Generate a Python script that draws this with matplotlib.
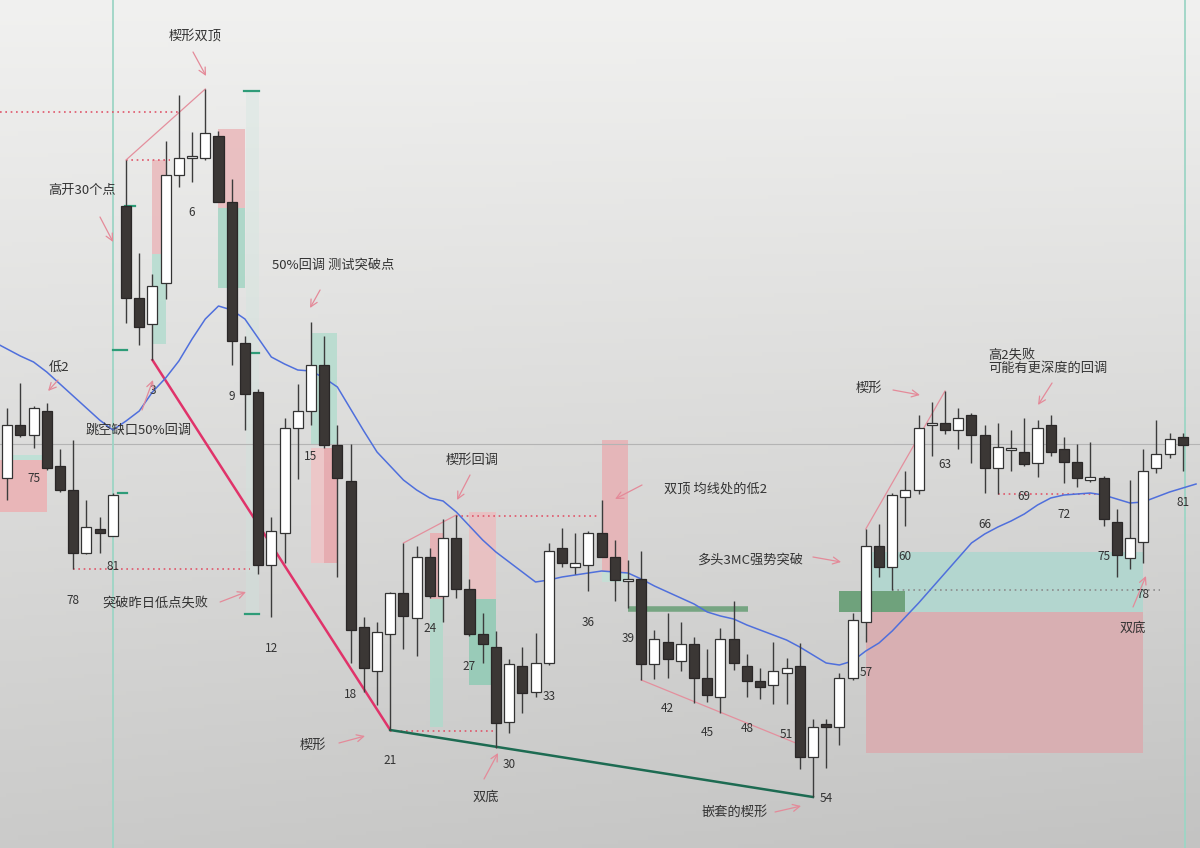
import numpy as np
import matplotlib
matplotlib.use("Agg")
import matplotlib.pyplot as plt
from matplotlib.patches import Rectangle

plt.rcParams['font.family'] = ['Noto Sans CJK SC', 'DejaVu Sans']

# ---------------- data (price in chart units, ~10 units per point) ----------------
prev_bar_numbers = [73, 74, 75, 76, 77, 78, 79, 80, 81]
prev_open  = [522, 575, 565, 589, 534, 510, 447, 471, 464]
prev_high  = [592, 617, 594, 597, 551, 560, 500, 483, 507]
prev_low   = [500, 563, 552, 530, 508, 431, 446, 447, 464]
prev_close = [575, 565, 592, 532, 510, 447, 473, 467, 505]

day_bar_numbers = list(range(1, 82))
day_open = [794, 702, 676, 717, 825, 842, 842, 864, 798, 657,
            608, 435, 467, 572, 589, 635, 555, 519, 373, 329,
            366, 407, 382, 443, 404, 462, 411, 366, 353, 278,
            334, 308, 337, 452, 433, 435, 467, 443, 419, 421,
            336, 358, 339, 356, 322, 303, 361, 334, 319, 315,
            327, 334, 243, 276, 273, 322, 378, 454, 433, 503,
            510, 575, 577, 570, 585, 565, 532, 550, 548, 537,
            575, 551, 538, 520, 522, 478, 442, 458, 532, 546,
            563]
day_high = [840, 747, 726, 859, 905, 868, 911, 869, 821, 664,
            611, 483, 582, 616, 678, 664, 575, 556, 383, 378,
            408, 457, 454, 452, 481, 485, 421, 387, 369, 341,
            353, 367, 457, 472, 467, 469, 500, 460, 440, 449,
            370, 387, 378, 363, 351, 372, 399, 346, 332, 358,
            342, 357, 281, 281, 327, 387, 471, 476, 507, 529,
            585, 598, 609, 592, 587, 575, 577, 570, 582, 580,
            585, 563, 556, 558, 524, 491, 520, 551, 580, 567,
            567]
day_low = [677, 655, 640, 701, 813, 818, 840, 798, 635, 570,
           426, 383, 437, 521, 575, 552, 423, 337, 308, 295,
           270, 351, 344, 402, 378, 402, 364, 337, 252, 267,
           287, 303, 335, 433, 426, 409, 443, 399, 392, 320,
           321, 322, 329, 297, 298, 287, 330, 303, 301, 296,
           296, 231, 203, 232, 255, 320, 358, 423, 410, 474,
           506, 544, 566, 551, 537, 507, 506, 529, 534, 523,
           544, 517, 513, 518, 474, 423, 431, 437, 527, 542,
           529]
day_close = [702, 673, 714, 825, 842, 843, 867, 798, 659, 606,
             435, 469, 572, 589, 635, 555, 522, 370, 332, 368,
             407, 384, 443, 404, 462, 411, 366, 356, 277, 336,
             307, 337, 449, 437, 437, 467, 443, 420, 421, 336,
             361, 341, 356, 322, 305, 361, 337, 319, 313, 329,
             332, 243, 273, 273, 322, 380, 454, 433, 505, 510,
             572, 577, 570, 582, 565, 532, 553, 551, 536, 572,
             548, 538, 522, 523, 481, 445, 462, 529, 546, 561,
             555]

# moving average, one value per bar position starting at position -9
ma_start = -9
ma_values = [658, 651, 644, 638, 628, 616, 604, 592, 580, 570,
             579, 589, 608, 622, 639, 661, 681, 694, 690, 681,
             662, 643, 636, 630, 629, 622, 613, 591, 569, 548,
             534, 520, 510, 502, 499, 488, 474, 460, 448, 438,
             428, 418, 420, 423, 425, 427, 429, 428, 427, 421,
             414, 408, 402, 396, 388, 384, 381, 375, 370, 365,
             360, 353, 345, 337, 335, 339, 349, 357, 369, 383,
             397, 412, 427, 442, 457, 466, 473, 479, 486, 495,
             502, 505, 506, 507, 505, 501, 497, 498, 503, 508,
             512, 516]

# ---------------- assemble ----------------
pos = [n - 81 for n in prev_bar_numbers] + day_bar_numbers
numbers = prev_bar_numbers + day_bar_numbers
O = np.array(prev_open + day_open, float)
H = np.array(prev_high + day_high, float)
L = np.array(prev_low + day_low, float)
C = np.array(prev_close + day_close, float)
pos = np.array(pos, float)

XMIN, XMAX = -8.54, 82.30
YMIN, YMAX = 152, 1000

fig = plt.figure(figsize=(12, 8.48), dpi=100)
ax = fig.add_axes([0, 0, 1, 1])
ax.set_xlim(XMIN, XMAX)
ax.set_ylim(YMIN, YMAX)
ax.axis('off')

# background gradient
gy, gx = np.mgrid[0:1:200j, 0:1:200j]
val = 0.945 - 0.15 * gy - 0.03 * gx * gy
bg = np.dstack([val, val, val * 0.995])
ax.imshow(bg, extent=[XMIN, XMAX, YMIN, YMAX], origin='upper', aspect='auto', zorder=0)

PINK = '#eab8bb'
TEAL = '#b4dccf'
def rect(x0, x1, y0, y1, color, alpha=1.0, z=1):
    ax.add_patch(Rectangle((x0, y0), x1 - x0, y1 - y0, facecolor=color,
                           edgecolor='none', alpha=alpha, zorder=z))

# shaded zones
rect(XMIN, -4.95, 488, 540, '#e9b6b8')
rect(-7.9, -4.95, 540, 545, '#bfe0d6')
rect(3, 4, 746, 840, PINK, 0.85)
rect(3, 4, 656, 746, TEAL, 0.85)
rect(8, 10, 792, 871, PINK, 0.85)
rect(8, 10, 712, 792, '#a8d6c6', 0.9)
rect(10.1, 11.1, 386, 909, '#cfe6df', 0.35)
rect(15, 17, 555, 667, '#b7dccf', 0.9)
rect(15, 16, 437, 552, '#efc5c7', 0.9)
rect(16, 17, 437, 552, '#e8a9ad', 0.9)
rect(24, 25, 401, 467, '#e8b0b3', 0.9)
rect(24, 25, 273, 401, '#b2d9cb', 0.9)
rect(27, 29, 401, 488, '#ebbfc1', 0.9)
rect(27, 29, 315, 401, '#93cbb6', 0.9)
rect(37, 39, 428, 560, '#e7b3b6', 0.9)
rect(37, 39, 418, 428, '#c4e0d6', 0.9)
rect(57, 78, 388, 448, '#b3d6cf', 1.0)
rect(57, 78, 247, 388, '#d8afb2', 1.0)
rect(55, 60, 388, 409, '#6fa27c', 1.0, z=2)

# reference lines
ax.axhline(556, color='#b4b4b4', lw=0.8, zorder=1)
for xv in (0.0, 81.15):
    ax.axvline(xv, color='#9dd5c5', lw=1.3, zorder=1)

# green measuring ticks
for x0, x1, yv in [(0.94, 1.7, 794), (0.0, 1.05, 650), (0.4, 1.05, 507),
                   (9.9, 11.1, 909), (10.5, 11.1, 647), (10.0, 11.1, 386)]:
    ax.plot([x0, x1], [yv, yv], color='#2e9c78', lw=1.6, zorder=3)

# dotted levels
for x0, x1, yv, col in [(XMIN, 5.1, 888, '#e0566a'), (1, 4.3, 840, '#e0566a'),
                        (-3, 10.4, 431, '#e0566a'), (21, 29, 269, '#e0566a'),
                        (26, 36.9, 484, '#e0566a'), (59, 79.3, 410, '#8c8c8c'),
                        (67, 74.6, 506, '#e0566a')]:
    ax.plot([x0, x1], [yv, yv], color=col, lw=1.2, ls=(0, (1, 2.2)), zorder=3)

# thick green level
ax.plot([39, 48.1], [391, 391], color='#76a582', lw=4, solid_capstyle='butt', zorder=2)

# trend / wedge lines
ax.plot([3, 21], [640, 270], color='#e0336a', lw=1.8, zorder=4)
ax.plot([21, 53], [270, 203], color='#1d6b52', lw=1.8, zorder=4)
for (x0, y0), (x1, y1) in [((1, 840), (7, 911)), ((22, 457), (26, 485)),
                           ((40, 320), (51.7, 257)), ((57, 471), (63, 609))]:
    ax.plot([x0, x1], [y0, y1], color='#e48f9d', lw=0.9, zorder=4)

# moving average
ma_pos = np.arange(ma_start, ma_start + len(ma_values))
ax.plot(ma_pos, ma_values, color='#4f6fdc', lw=1.1, zorder=5)

# candles
up = C >= O
ax.vlines(pos, L, H, color='#3c3c3c', lw=1.0, zorder=6)
bw = 0.76
bottoms = np.minimum(O, C)
heights = np.maximum(np.abs(C - O), 2.0)
ax.bar(pos[up], heights[up], bottom=bottoms[up], width=bw, color='white',
       edgecolor='#333333', linewidth=0.9, zorder=7)
ax.bar(pos[~up], heights[~up], bottom=bottoms[~up], width=bw, color='#3b3735',
       edgecolor='#2a2727', linewidth=0.9, zorder=7)

# bar numbers every third bar
for p, n, lo in zip(pos, numbers, L):
    if n % 3 == 0 and (p > 0 or n >= 75):
        ax.text(p, lo - 31, str(n), ha='center', va='center', fontsize=8.5,
                color='#333333', zorder=8)

# annotations
TXT = '#333333'
notes = [("楔形双顶", 6.22, 963), ("高开30个点", -2.33, 810),
         ("50%回调 测试突破点", 16.67, 735), ("低2", -4.07, 633),
         ("跳空缺口50%回调", 1.98, 570), ("突破昨日低点失败", 3.23, 397),
         ("楔形回调", 27.19, 540), ("双顶 均线处的低2", 45.66, 511),
         ("多头3MC强势突破", 48.2, 440), ("楔形", 15.16, 255),
         ("双底", 28.25, 203), ("嵌套的楔形", 47.1, 188),
         ("楔形", 57.25, 612), ("双底", 77.23, 372)]
for s, x, y in notes:
    ax.text(x, y, s, ha='center', va='center', fontsize=9.5, color=TXT, zorder=9)
ax.text(66.25, 645, "高2失败", ha='left', va='center', fontsize=9.5, color=TXT, zorder=9)
ax.text(66.25, 632, "可能有更深度的回调", ha='left', va='center', fontsize=9.5, color=TXT, zorder=9)

arrows = [((6.07, 948), (7.06, 924)), ((-0.97, 783), (0.02, 758)),
          ((15.69, 710), (14.93, 692)), ((-4.15, 620), (-4.9, 609)),
          ((2.21, 590), (3.04, 620)), ((8.12, 398), (10.08, 408)),
          ((27.04, 525), (26.06, 500)), ((40.06, 515), (38.02, 501)),
          ((53.0, 443), (55.13, 438)), ((17.12, 257), (19.09, 264)),
          ((28.1, 221), (29.16, 247)), ((50.13, 188), (52.1, 194)),
          ((59.06, 610), (61.1, 605)), ((71.1, 617), (70.04, 595)),
          ((77.23, 393), (78.21, 424))]
for tail, head in arrows:
    ax.annotate("", xy=head, xytext=tail,
                arrowprops=dict(arrowstyle='->,head_length=0.5,head_width=0.25',
                                color='#e48a99', lw=0.9, shrinkA=0, shrinkB=0),
                zorder=9)

fig.savefig("out.png", dpi=100)
